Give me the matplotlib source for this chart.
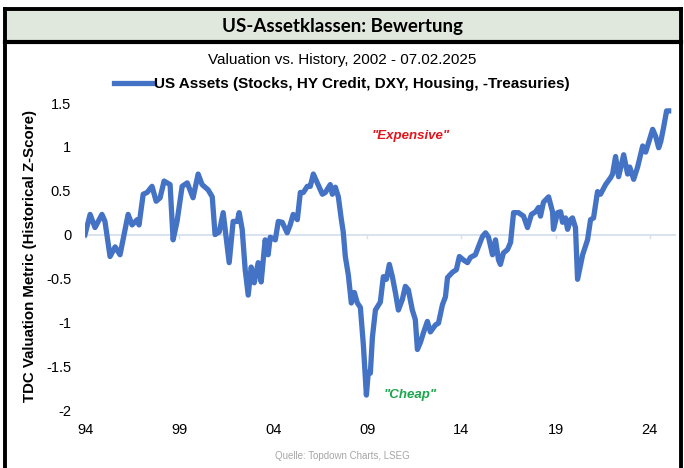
import matplotlib
matplotlib.use("Agg")
import matplotlib.pyplot as plt
from matplotlib.lines import Line2D
from matplotlib.patches import Rectangle

# values (decimal year, z-score)
years = [
    1994.00, 1994.27, 1994.53, 1994.90, 1995.06, 1995.33, 1995.60, 1995.86, 1996.29, 1996.50,
    1996.77, 1996.87, 1997.09, 1997.30, 1997.56, 1997.78, 1997.99, 1998.20, 1998.52, 1998.68,
    1998.89, 1999.16, 1999.43, 1999.74, 2000.01, 2000.22, 2000.54, 2000.76, 2000.91, 2001.13,
    2001.34, 2001.66, 2001.87, 2002.09, 2002.19, 2002.35, 2002.51, 2002.67, 2002.83, 2002.99,
    2003.20, 2003.36, 2003.57, 2003.73, 2003.84, 2004.11, 2004.27, 2004.48, 2004.74, 2004.90,
    2005.06, 2005.28, 2005.44, 2005.60, 2005.81, 2005.97, 2006.13, 2006.34, 2006.61, 2006.77,
    2007.03, 2007.14, 2007.30, 2007.46, 2007.62, 2007.72, 2007.83, 2007.99, 2008.15, 2008.31,
    2008.47, 2008.63, 2008.79, 2008.95, 2009.05, 2009.16, 2009.27, 2009.43, 2009.69, 2009.85,
    2010.01, 2010.17, 2010.33, 2010.49, 2010.65, 2010.86, 2011.02, 2011.18, 2011.39, 2011.55,
    2011.66, 2011.82, 2011.98, 2012.19, 2012.35, 2012.62, 2012.78, 2012.99, 2013.15, 2013.26,
    2013.52, 2013.73, 2013.89, 2014.11, 2014.32, 2014.48, 2014.74, 2014.90, 2015.12, 2015.28,
    2015.44, 2015.65, 2015.81, 2015.97, 2016.07, 2016.23, 2016.45, 2016.61, 2016.77, 2017.03,
    2017.30, 2017.51, 2017.72, 2017.94, 2018.10, 2018.20, 2018.36, 2018.63, 2018.84, 2018.89,
    2019.11, 2019.27, 2019.37, 2019.53, 2019.64, 2019.80, 2019.90, 2020.06, 2020.17, 2020.44,
    2020.70, 2020.86, 2021.02, 2021.23, 2021.39, 2021.66, 2021.93, 2022.03, 2022.19, 2022.35,
    2022.62, 2022.83, 2022.94, 2023.15, 2023.36, 2023.63, 2023.79, 2024.16, 2024.32, 2024.48,
    2024.59, 2024.74, 2024.90, 2025.01,
]
zscore = [
    0.00, 0.23, 0.08, 0.23, 0.15, -0.25, -0.14, -0.23, 0.23, 0.11,
    0.17, 0.11, 0.46, 0.48, 0.55, 0.38, 0.42, 0.61, 0.57, -0.06,
    0.15, 0.55, 0.59, 0.42, 0.69, 0.57, 0.51, 0.43, 0.00, 0.03,
    0.25, -0.32, 0.15, 0.15, 0.25, 0.06, -0.40, -0.69, -0.37, -0.55,
    -0.32, -0.54, -0.06, -0.23, -0.03, -0.06, 0.15, 0.14, 0.02, 0.11,
    0.23, 0.17, 0.48, 0.48, 0.55, 0.55, 0.69, 0.59, 0.46, 0.48,
    0.57, 0.46, 0.54, 0.43, 0.17, 0.03, -0.25, -0.46, -0.78, -0.66,
    -0.78, -0.83, -1.26, -1.83, -1.57, -1.58, -1.17, -0.86, -0.77, -0.48,
    -0.51, -0.34, -0.48, -0.66, -0.86, -0.74, -0.59, -0.63, -0.86, -0.97,
    -1.31, -1.23, -1.12, -0.99, -1.11, -1.03, -1.01, -0.80, -0.71, -0.49,
    -0.43, -0.40, -0.25, -0.29, -0.32, -0.26, -0.23, -0.14, -0.02, 0.02,
    -0.03, -0.23, -0.06, -0.29, -0.34, -0.21, -0.17, -0.09, 0.25, 0.25,
    0.21, 0.08, 0.23, 0.26, 0.31, 0.21, 0.37, 0.43, 0.26, 0.06,
    0.25, 0.26, 0.14, 0.19, 0.06, 0.17, 0.19, 0.08, -0.51, -0.23,
    -0.06, 0.17, 0.19, 0.49, 0.46, 0.57, 0.65, 0.69, 0.89, 0.66,
    0.91, 0.69, 0.77, 0.63, 0.77, 1.01, 0.94, 1.20, 1.12, 0.99,
    1.06, 1.22, 1.41, 1.41,
]
tick_years = [1994, 1999, 2004, 2009, 2014, 2019, 2024]
tick_labels = ["94", "99", "04", "09", "14", "19", "24"]
y_ticks = [-2, -1.5, -1, -0.5, 0, 0.5, 1, 1.5]
y_labels = ["-2", "-1.5", "-1", "-0.5", "0", "0.5", "1", "1.5"]

BLUE = "#4472c4"
ARIAL = "Liberation Sans"

fig = plt.figure(figsize=(6.84, 4.68), dpi=100)
ax = fig.add_axes([0.1243, 0.1239, 0.864, 0.656])

ax.axhline(0, color="#d6e0ee", lw=1.3, zorder=1)
for t in tick_years:
    ax.plot([t, t], [0, -0.035], color="#d6e0ee", lw=1, zorder=1)
ax.plot(years, zscore, color=BLUE, lw=3.8, solid_joinstyle="round", zorder=3)

ax.set_xlim(1994, 2025.4)
ax.set_ylim(-2, 1.5)
ax.set_xticks(tick_years)
ax.set_xticklabels(tick_labels, fontfamily=ARIAL, fontsize=10.5)
ax.set_yticks(y_ticks)
ax.set_yticklabels(y_labels, fontfamily=ARIAL, fontsize=10.5)
ax.tick_params(axis="both", length=0)
ax.tick_params(axis="y", pad=10)
ax.tick_params(axis="x", pad=9)
for s in ax.spines.values():
    s.set_visible(False)

ax.text(2011.29, 1.12, '"Expensive"', color="#e3141c", fontsize=9.5, fontweight="bold",
        fontstyle="italic", fontfamily=ARIAL, ha="center", va="center")
ax.text(2011.29, -1.83, '"Cheap"', color="#1aa64a", fontsize=9.5, fontweight="bold",
        fontstyle="italic", fontfamily=ARIAL, ha="center", va="center")

# header band and frame
fig.patches.append(Rectangle((0.0073, 0.9145), 0.988, 0.062, transform=fig.transFigure,
                             facecolor="#e0e7dd", edgecolor="none", zorder=0))
fig.lines.append(Line2D([0.0073, 0.9956], [0.9808, 0.9808], transform=fig.transFigure,
                        color="black", lw=2.8))
fig.lines.append(Line2D([0.0073, 0.9956], [0.9103, 0.9103], transform=fig.transFigure,
                        color="black", lw=3.0))
fig.lines.append(Line2D([0.0073, 0.0073], [0.0, 0.9808], transform=fig.transFigure,
                        color="black", lw=2.8))
fig.lines.append(Line2D([0.9956, 0.9956], [0.0, 0.9808], transform=fig.transFigure,
                        color="black", lw=2.8))

fig.text(0.5, 0.9444, "US-Assetklassen: Bewertung", ha="center", va="center",
         fontsize=13.5, fontweight="bold", fontfamily="Lato")
fig.text(0.5, 0.8718, "Valuation vs. History, 2002 - 07.02.2025", ha="center", va="center",
         fontsize=11, fontfamily=ARIAL)
fig.text(0.0439, 0.453, "TDC Valuation Metric (Historical Z-Score)", rotation=90,
         ha="center", va="center", fontsize=10.8, fontweight="bold", fontfamily=ARIAL)
fig.text(0.5, 0.026, "Quelle: Topdown Charts, LSEG", ha="center", va="center",
         fontsize=7, color="#a6a6a6", fontfamily=ARIAL)

handle = Line2D([], [], color=BLUE, lw=3.8)
fig.legend([handle], ["US Assets (Stocks, HY Credit, DXY, Housing, -Treasuries)"],
           loc="center", bbox_to_anchor=(0.5, 1 - 84 / 468), frameon=False,
           handlelength=2.5, handletextpad=0.1, borderpad=0,
           prop={"family": ARIAL, "weight": "bold", "size": 11})

fig.savefig("out.png", dpi=100)
